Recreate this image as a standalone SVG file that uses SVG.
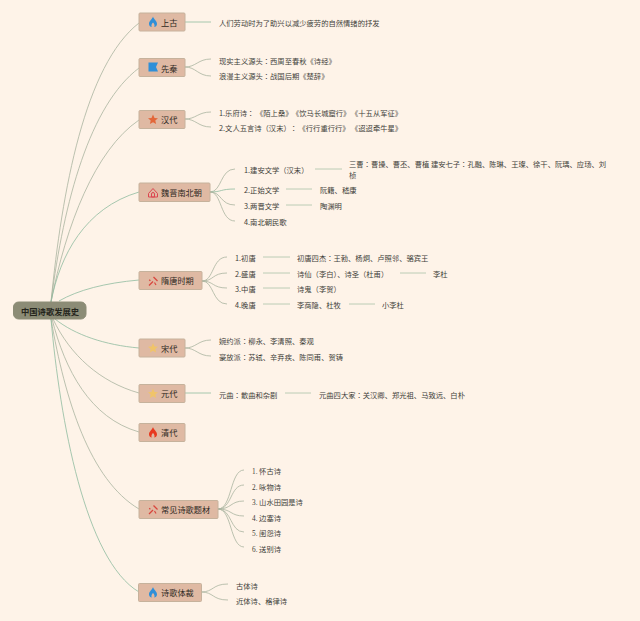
<svg xmlns="http://www.w3.org/2000/svg" width="640" height="621" viewBox="0 0 640 621">
<style>
text{font-family:"Noto Sans CJK SC","Noto Sans",sans-serif;dominant-baseline:central}
.leaf{font-size:7.3px;fill:#3f3f3a}
.num{font-family:"Liberation Serif","Noto Sans CJK SC",serif}
.tc{font-family:"Noto Sans CJK TC","Noto Sans",sans-serif}
.label{font-size:8.2px;fill:#2e2822}
.box{fill:#dfb9a3;stroke:#c6b29c;stroke-width:1}
.root{fill:#8c8c76;stroke:#8c8c76}
.roottext{font-size:8.3px;font-weight:700;fill:#25251c}
.c1{fill:none;stroke:#a9b4a0;stroke-width:.8}
.c2{fill:none;stroke:#8fbb9f;stroke-width:.8}
.d{fill:none;stroke:#b4c8b0;stroke-width:.9}
</style>
<defs>
<path id="flame" d="M0-5.500C.6-3 4-1.200 4 2 4 4 2.400 5 1.200 5 2 3.600 1.400 1.800 0 .5-1.400 1.800-2 3.600-1.200 5-2.400 5-4 4-4 2-4-1.200-.6-3 0-5.500Z"/>
<path id="star" d="M0-5 1.500-1.600 5-1.300 2.300 1 3.100 4.600 0 2.700-3.100 4.600-2.300 1-5-1.300-1.500-1.600Z"/>
<g id="tools" fill="none" stroke="#d8453d" stroke-width="1.200"><path d="M-4 4.500 0 .5"/><path d="M.5-4 4.500 0"/><path d="M-3.800-1.200-2.600-.2"/><path d="M1.500 1.500 3 4"/></g>
</defs>
<rect width="640" height="621" fill="#fef3e8"/>
<g id="connectors">
<path class="c1" d="M51 302C62 190 85 65 139 23"/>
<path class="c1" d="M51 302C64 200 90 105 139 68"/>
<path class="c1" d="M51 302C66 225 95 150 139 120"/>
<path class="c2" d="M51 302C60 255 85 208 139 192"/>
<path class="c2" d="M59 301C78 290 105 283 139 280"/>
<path class="c2" d="M55 319C75 335 105 345 139 348"/>
<path class="c1" d="M53 319C70 355 100 382 139 393"/>
<path class="c1" d="M52 319C65 370 90 418 139 432"/>
<path class="c1" d="M51 319C65 400 90 480 139 509"/>
<path class="c2" d="M51 319C60 420 85 560 139 592"/>
<path class="c2" d="M185 22H211"/>
<path class="c1" d="M185 67C196 67 198 59 211 59"/>
<path class="c1" d="M185 67C196 67 198 76 211 76"/>
<path class="c1" d="M185 119C196 119 198 112 211 112"/>
<path class="c1" d="M185 119C196 119 198 127 211 127"/>
<path class="c1" d="M210 192C222 192 220 169 235 169"/>
<path class="c2" d="M210 192C222 192 220 189 235 189"/>
<path class="c1" d="M210 192C222 192 220 205 235 205"/>
<path class="c1" d="M210 192C222 192 220 221 235 221"/>
<path class="d" d="M315 169H342M286 189H312M286 205H312"/>
<path class="c1" d="M202 281C214 281 212 257 227 257"/>
<path class="c1" d="M202 281C214 281 212 273 227 273"/>
<path class="c1" d="M202 281C214 281 212 288 227 288"/>
<path class="c1" d="M202 281C214 281 212 304 227 304"/>
<path class="d" d="M263 257H290M263 273H290M263 288H290M263 304H290M400 273H426M349 304H375"/>
<path class="c1" d="M185 348C196 348 198 340 211 340"/>
<path class="c1" d="M185 348C196 348 198 356 211 356"/>
<path class="c2" d="M185 393H211"/>
<path class="d" d="M285 393H311"/>
<path class="c1" d="M218 509C232 509 230 470 244 470"/>
<path class="c1" d="M218 509C232 509 230 485 244 485"/>
<path class="c1" d="M218 509C232 509 230 501 244 501"/>
<path class="c1" d="M218 509C232 509 230 516 244 516"/>
<path class="c1" d="M218 509C232 509 230 532 244 532"/>
<path class="c1" d="M218 509C232 509 230 547 244 547"/>
<path class="c1" d="M201 592C214 592 212 584 228 584"/>
<path class="c1" d="M201 592C214 592 212 600 228 600"/>
</g>
<g id="root"><rect class="root" x="13.500" y="302" width="72.500" height="17" rx="5"/><text class="roottext" x="21" y="310.500">中国诗歌发展史</text></g>
<g id="n1"><rect class="box" x="139" y="13" width="46" height="18" rx="1"/><use href="#flame" x="153" y="22" fill="#2f8fd8"/><text class="label" x="161" y="21.500">上古</text>
<text class="leaf" x="219" y="23">人们劳动时为了助兴以减少疲劳的自然情绪的抒发</text></g>
<g id="n2"><rect class="box" x="139" y="58.500" width="46" height="18" rx="1"/><path d="M148.500 62.500H158L156 67 158 71.500H148.500Z" fill="#2f8fd8"/><text class="label" x="161" y="67.500">先秦</text>
<text class="leaf" x="219" y="60.500">现实主义源头<tspan class="tc">：</tspan>西周至春秋《诗经》</text><text class="leaf" x="219" y="76">浪漫主义源头<tspan class="tc">：</tspan>战国后期《楚辞》</text></g>
<g id="n3"><rect class="box" x="139" y="110.500" width="46" height="18" rx="1"/><use href="#star" x="153" y="119.500" fill="#e2673a"/><text class="label" x="161" y="119">汉代</text>
<text class="leaf" x="219" y="112.500">1.乐府诗<tspan class="tc">：</tspan></text><text class="leaf" x="256" y="112.500">《陌上桑》</text><text class="leaf" x="292" y="112.500">《饮马长城窟行》</text><text class="leaf" x="351" y="112.500">《十五从军征》</text>
<text class="leaf" x="219" y="128">2.文人五言诗（汉末）</text><text class="leaf" x="290" y="128" ><tspan class="tc">：</tspan></text><text class="leaf" x="298.500" y="128">《行行重行行》</text><text class="leaf" x="351" y="128">《迢迢牵牛星》</text></g>
<g id="n4"><rect class="box" x="139" y="183" width="71" height="18.500" rx="1"/><path d="M148.500 193.500 153 188.500 157.500 193.500V197H148.500ZM153 192.500A1.500 1.500 0 0 1 154.500 194V197H151.500V194A1.500 1.500 0 0 1 153 192.500Z" fill="none" stroke="#dc4650" stroke-width="1"/><text class="label" x="161" y="191.500">魏晋南北朝</text>
<text class="leaf" x="244" y="169.500">1.建安文学（汉末）</text><text class="leaf" x="244" y="190">2.正始文学</text><text class="leaf" x="320" y="190">阮籍、嵇康</text><text class="leaf" x="244" y="206">3.两晋文学</text><text class="leaf" x="320" y="206">陶渊明</text><text class="leaf" x="244" y="221.500">4.南北朝民歌</text>
<text class="leaf" x="349" y="164">三曹<tspan class="tc">：</tspan>曹操、曹丕、曹植 建安七子<tspan class="tc">：</tspan>孔融、陈琳、王璨、徐干、阮瑀、应玚、刘</text><text class="leaf" x="349" y="174.500">桢</text></g>
<g id="n5"><rect class="box" x="139" y="271.500" width="63" height="18" rx="1"/><use href="#tools" x="153" y="281"/><text class="label" x="161" y="280">隋唐时期</text>
<text class="leaf" x="235" y="258">1.初唐</text><text class="leaf" x="297" y="258">初唐四杰<tspan class="tc">：</tspan>王勃、杨炯、卢照邻、骆宾王</text>
<text class="leaf" x="235" y="273.500">2.盛唐</text><text class="leaf" x="297" y="273.500">诗仙（李白）、诗圣（杜甫）</text><text class="leaf" x="433" y="273.500">李杜</text>
<text class="leaf" x="235" y="289">3.中唐</text><text class="leaf" x="297" y="289">诗鬼（李贺）</text>
<text class="leaf" x="235" y="304.500">4.晚唐</text><text class="leaf" x="297" y="304.500">李商隐、杜牧</text><text class="leaf" x="382" y="304.500">小李杜</text></g>
<g id="n6"><rect class="box" x="139" y="339" width="46" height="18" rx="1"/><use href="#star" x="153" y="348" fill="#f0c46a"/><text class="label" x="161" y="348">宋代</text>
<text class="leaf" x="219" y="341">婉约派<tspan class="tc">：</tspan>柳永、李清照、秦观</text><text class="leaf" x="219" y="356.500">豪放派<tspan class="tc">：</tspan>苏轼、辛弃疾、陈同甫、贺铸</text></g>
<g id="n7"><rect class="box" x="139" y="384.500" width="46" height="18" rx="1"/><use href="#star" x="153" y="393.500" fill="#f0c46a"/><text class="label" x="161" y="393">元代</text>
<text class="leaf" x="219" y="394.500">元曲<tspan class="tc">：</tspan>散曲和杂剧</text><text class="leaf" x="319" y="394.500">元曲四大家<tspan class="tc">：</tspan>关汉卿、郑光祖、马致远、白朴</text></g>
<g id="n8"><rect class="box" x="139" y="423.500" width="46" height="18" rx="1"/><use href="#flame" x="153" y="432.500" fill="#e8391f"/><text class="label" x="161" y="432">清代</text></g>
<g id="n9"><rect class="box" x="139" y="500.500" width="79" height="18" rx="1"/><use href="#tools" x="153" y="509.500"/><text class="label" x="161" y="508.500">常见诗歌题材</text>
<text class="leaf" x="252" y="471"><tspan class="num">1.</tspan> 怀古诗</text><text class="leaf" x="252" y="486.500"><tspan class="num">2.</tspan> 咏物诗</text><text class="leaf" x="252" y="502"><tspan class="num">3.</tspan> 山水田园是诗</text><text class="leaf" x="252" y="517.500"><tspan class="num">4.</tspan> 边塞诗</text><text class="leaf" x="252" y="533"><tspan class="num">5.</tspan> 闺怨诗</text><text class="leaf" x="252" y="548.500"><tspan class="num">6.</tspan> 送别诗</text></g>
<g id="n10"><rect class="box" x="138.500" y="583.500" width="63" height="18" rx="1"/><use href="#flame" x="153" y="592.500" fill="#2f8fd8"/><text class="label" x="161" y="592">诗歌体裁</text>
<text class="leaf" x="236" y="585.500">古体诗</text><text class="leaf" x="236" y="601">近体诗、格律诗</text></g>
</svg>
